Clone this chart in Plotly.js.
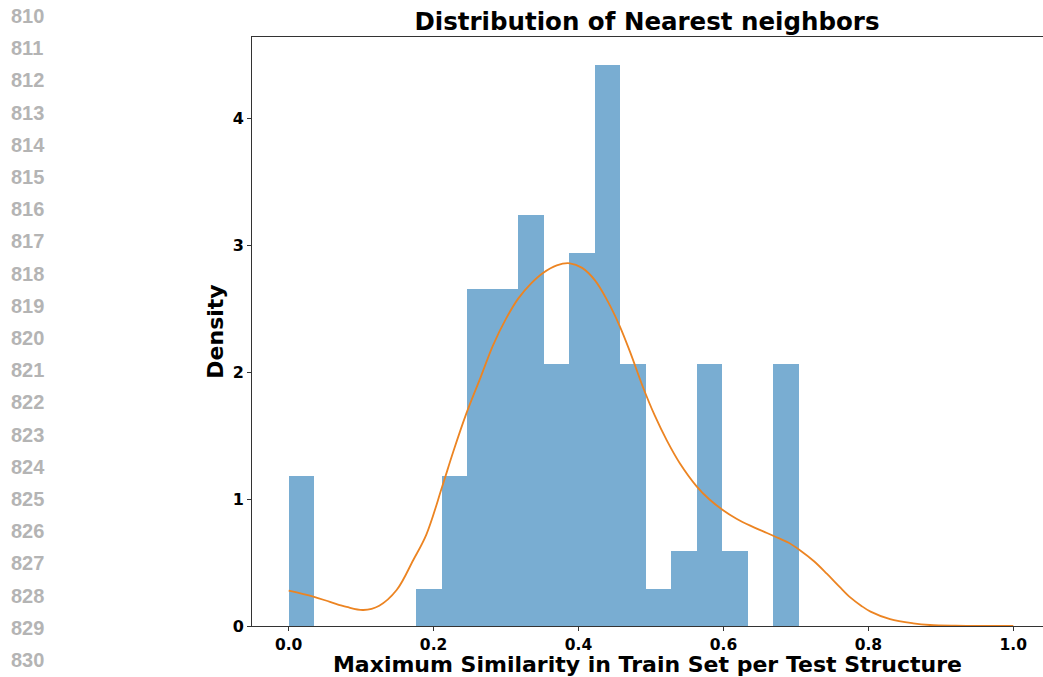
<!DOCTYPE html>
<html>
<head>
<meta charset="utf-8">
<script src="https://cdn.plot.ly/plotly-3.0.1.min.js"></script>
<style>html,body{margin:0;padding:0;background:#fff;}#chart{width:1043px;height:677px;}</style>
</head>
<body>
<div id="chart"></div>
<script>
// Histogram bin edges (20 bins) and density per bin
const binEdges = [0, 0.0352, 0.0704, 0.1056, 0.1408, 0.176, 0.2112, 0.2464, 0.2816, 0.3168, 0.352,
                  0.3872, 0.4224, 0.4576, 0.4928, 0.528, 0.5632, 0.5984, 0.6336, 0.6688, 0.704];
const binDensity = [1.18, 0, 0, 0, 0, 0.29, 1.18, 2.65, 2.65, 3.24, 2.06, 2.94, 4.42, 2.06, 0.29, 0.59, 2.06, 0.59, 0, 2.06];

// KDE curve
const kdeX = [0, 0.034, 0.057, 0.08, 0.103, 0.125, 0.149, 0.172, 0.19, 0.212, 0.227, 0.245, 0.265, 0.282, 0.3,
              0.317, 0.335, 0.351, 0.37, 0.388, 0.405, 0.423, 0.44, 0.457, 0.471, 0.489, 0.505, 0.522, 0.54,
              0.563, 0.58, 0.6, 0.618, 0.637, 0.655, 0.671, 0.69, 0.706, 0.725, 0.743, 0.76, 0.775, 0.79,
              0.803, 0.83, 0.862, 0.885, 0.92, 0.96, 1.0];
const kdeY = [0.278, 0.231, 0.19, 0.15, 0.126, 0.16, 0.283, 0.52, 0.72, 1.10, 1.37, 1.67, 1.96, 2.21, 2.42,
              2.58, 2.70, 2.78, 2.84, 2.856, 2.82, 2.72, 2.56, 2.36, 2.16, 1.88, 1.66, 1.46, 1.28,
              1.10, 1.00, 0.91, 0.845, 0.79, 0.745, 0.705, 0.655, 0.595, 0.51, 0.41, 0.31, 0.225, 0.16,
              0.113, 0.054, 0.021, 0.008, 0.002, 0.0, 0.0];

const xTicks = [0.0, 0.2, 0.4, 0.6, 0.8, 1.0];
const xTickLabels = ['0.0', '0.2', '0.4', '0.6', '0.8', '1.0'];
const yTicks = [0, 1, 2, 3, 4];
const yTickLabels = ['0', '1', '2', '3', '4'];
const lineNumbers = ['810','811','812','813','814','815','816','817','818','819','820',
                     '821','822','823','824','825','826','827','828','829','830'];

const binCenters = [], binWidths = [];
for (let i = 0; i < binDensity.length; i++) {
  binCenters.push((binEdges[i] + binEdges[i + 1]) / 2);
  binWidths.push(binEdges[i + 1] - binEdges[i]);
}

const W = 1043, H = 677;
const mL = 252, mR = 0, mT = 37, mB = 51;
const plotH = H - mT - mB, plotW = W - mL - mR;

const traces = [
  {
    type: 'bar', x: binCenters, y: binDensity, width: binWidths,
    marker: {color: '#79add2', line: {width: 0}},
    hoverinfo: 'x+y', showlegend: false
  },
  {
    type: 'scatter', mode: 'lines', x: kdeX, y: kdeY,
    line: {color: '#ec8422', width: 1.8, shape: 'spline', smoothing: 1},
    showlegend: false
  }
];

const annotations = lineNumbers.map((t, i) => ({
  text: t, xref: 'paper', yref: 'paper',
  x: (9 - mL) / plotW, xanchor: 'left',
  y: (H - mB - (16 + i * 32.2)) / plotH, yanchor: 'middle',
  showarrow: false,
  font: {family: 'Liberation Sans, Arial, sans-serif', size: 20, color: '#b4b4b4', weight: 'bold'}
}));

const fontB = 'DejaVu Sans, sans-serif';
const layout = {
  width: W, height: H,
  margin: {l: mL, r: mR, t: mT, b: mB, pad: 0},
  paper_bgcolor: '#ffffff', plot_bgcolor: '#ffffff',
  bargap: 0,
  title: {
    text: '<b>Distribution of Nearest neighbors</b>',
    font: {family: fontB, size: 24.5, color: '#000'},
    xref: 'container', x: 647 / W, xanchor: 'center',
    yref: 'container', y: 1 - 21 / H, yanchor: 'middle'
  },
  xaxis: {
    range: [-0.0506, 1.041],
    tickvals: xTicks, ticktext: xTickLabels,
    ticks: 'outside', ticklen: 4, tickwidth: 1, tickcolor: '#333',
    showline: true, linecolor: '#333', linewidth: 1, mirror: true,
    showgrid: false, zeroline: false,
    tickfont: {family: fontB, size: 15.5, color: '#000', weight: 'bold'},
    title: {text: '<b>Maximum Similarity in Train Set per Test Structure</b>',
            font: {family: fontB, size: 22, color: '#000'}, standoff: 8}
  },
  yaxis: {
    range: [0, 4.638],
    tickvals: yTicks, ticktext: yTickLabels,
    ticks: 'outside', ticklen: 4, tickwidth: 1, tickcolor: '#333',
    showline: true, linecolor: '#333', linewidth: 1, mirror: false,
    showgrid: false, zeroline: false,
    tickfont: {family: fontB, size: 16, color: '#000', weight: 'bold'},
    title: {text: '<b>Density</b>', font: {family: fontB, size: 22, color: '#000'}, standoff: 2}
  },
  annotations: annotations
};

Plotly.newPlot('chart', traces, layout, {displayModeBar: false, staticPlot: true});
</script>
</body>
</html>
